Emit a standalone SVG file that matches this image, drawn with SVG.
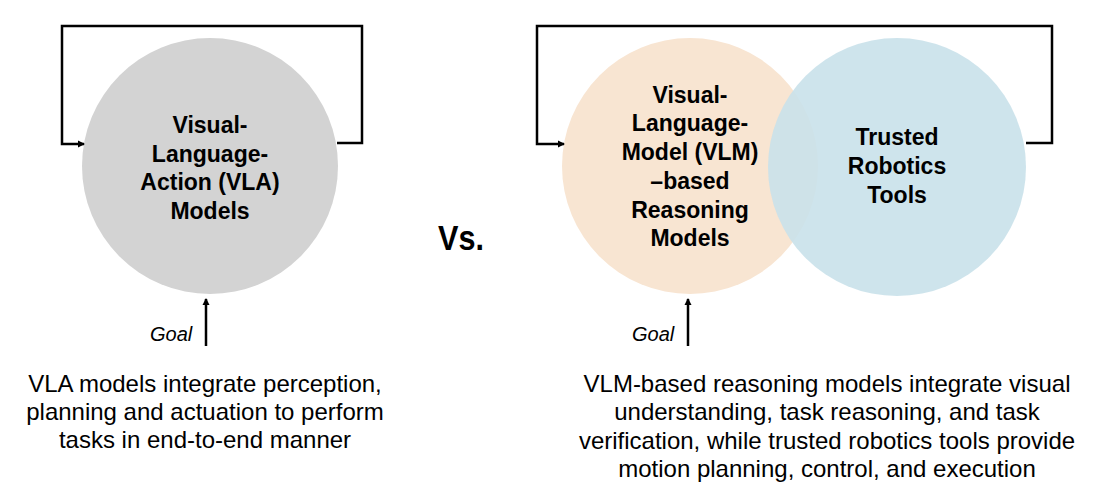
<svg xmlns="http://www.w3.org/2000/svg" width="1117" height="488" viewBox="0 0 1117 488">
<style>
.lbl{font-family:"Liberation Sans",Arial,sans-serif;font-weight:bold;font-size:23px;fill:#000;text-anchor:middle}
.cap{font-family:"Liberation Sans",Arial,sans-serif;font-size:24px;fill:#000;text-anchor:middle}
.goal{font-family:"Liberation Sans",Arial,sans-serif;font-style:italic;font-size:20px;fill:#000}
.ln{fill:none;stroke:#000;stroke-width:2.5}
</style>
<defs>
<marker id="ah" markerWidth="8" markerHeight="8" refX="6" refY="4" orient="auto" markerUnits="userSpaceOnUse">
<path d="M0,0.5 L7,4 L0,7.5 z" fill="#000"/>
</marker>
</defs>
<rect width="1117" height="488" fill="#fff"/>
<g id="vla">
<circle cx="210" cy="166" r="128" fill="#d3d3d3"/>
<text class="lbl" x="210" y="133">Visual-</text>
<text class="lbl" x="210" y="162">Language-</text>
<text class="lbl" x="210" y="190">Action (VLA)</text>
<text class="lbl" x="210" y="219">Models</text>
</g>
<g id="vlm">
<circle cx="690" cy="166" r="128" fill="#f8e5d2"/>
</g>
<g id="tools">
<circle cx="897" cy="167" r="129" fill="#c9e1ea" fill-opacity="0.9"/>
<text class="lbl" x="897" y="145">Trusted</text>
<text class="lbl" x="897" y="174">Robotics</text>
<text class="lbl" x="897" y="203">Tools</text>
</g>
<g id="vlm-text">
<text class="lbl" x="690" y="103">Visual-</text>
<text class="lbl" x="690" y="131">Language-</text>
<text class="lbl" x="690" y="160">Model (VLM)</text>
<text class="lbl" x="690" y="189">–based</text>
<text class="lbl" x="690" y="218">Reasoning</text>
<text class="lbl" x="690" y="246">Models</text>
</g>
<g id="vs">
<text x="461" y="250" font-family="'Liberation Sans',Arial,sans-serif" font-weight="bold" font-size="35" text-anchor="middle" textLength="46" lengthAdjust="spacingAndGlyphs">Vs.</text>
</g>
<g id="connectors">
<path class="ln" d="M337,143 H362 V26 H62 V144 H84" marker-end="url(#ah)"/>
<path class="ln" d="M1026,143 H1052 V26 H537 V144 H564" marker-end="url(#ah)"/>
<path class="ln" d="M206,346 V299" marker-end="url(#ah)"/>
<path class="ln" d="M688,346 V299" marker-end="url(#ah)"/>
</g>
<g id="goal-left"><text class="goal" x="150" y="341">Goal</text></g>
<g id="goal-right"><text class="goal" x="632" y="341">Goal</text></g>
<g id="caption-left">
<text class="cap" x="205" y="392">VLA models integrate perception,</text>
<text class="cap" x="205" y="420">planning and actuation to perform</text>
<text class="cap" x="205" y="448">tasks in end-to-end manner</text>
</g>
<g id="caption-right">
<text class="cap" x="827" y="392">VLM-based reasoning models integrate visual</text>
<text class="cap" x="827" y="420">understanding, task reasoning, and task</text>
<text class="cap" x="827" y="449">verification, while trusted robotics tools provide</text>
<text class="cap" x="827" y="477">motion planning, control, and execution</text>
</g>
</svg>
